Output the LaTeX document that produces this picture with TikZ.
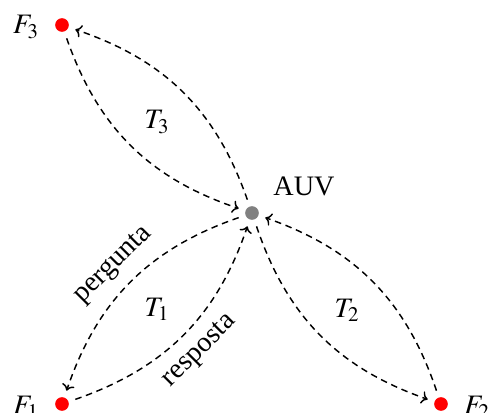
\documentclass[tikz,border=0pt]{standalone}
\usepackage{mathptmx}
\usepackage{fontspec}
\setmainfont{Liberation Serif}
\usetikzlibrary{arrows.meta,positioning}

\begin{document}
\begin{tikzpicture}[
  x=0.55pt, y=-0.55pt,
  every node/.style={font=\fontsize{15.5}{18}\selectfont},
  farol/.style={circle, fill=red, inner sep=0pt, minimum size=7.5pt, outer sep=4pt},
  veiculo/.style={circle, fill=gray, inner sep=0pt, minimum size=7.5pt, outer sep=4pt},
  link/.style={->, thick, dash pattern=on 3.6pt off 2.6pt}
]
\useasboundingbox (0,0) rectangle (489,413);

\node[farol] (F3) at (62,25) {};
\node[farol] (F1) at (62,404) {};
\node[farol] (F2) at (441,404) {};
\node[veiculo] (AUV) at (252,213) {};

\node (lF3) at (26,27) {$F_3$};
\node (lF1) at (26,407) {$F_1$};
\node (lF2) at (477,407) {$F_2$};
\node (lAUV) at (304,186) {AUV};

\node (T3) at (157,122) {$T_3$};
\node (T1) at (157,309) {$T_1$};
\node (T2) at (347,310) {$T_2$};

% arrows
\draw[link] (AUV) to[bend right=26] (F3);
\draw[link] (F3) to[bend right=26] (AUV);

\draw[link] (AUV) to[bend right=26] node[sloped, above=3pt]{pergunta} (F1);
\draw[link] (F1) to[bend right=26] node[sloped, below=3pt]{resposta} (AUV);

\draw[link] (AUV) to[bend right=26] (F2);
\draw[link] (F2) to[bend right=26] (AUV);

\end{tikzpicture}
\end{document}
